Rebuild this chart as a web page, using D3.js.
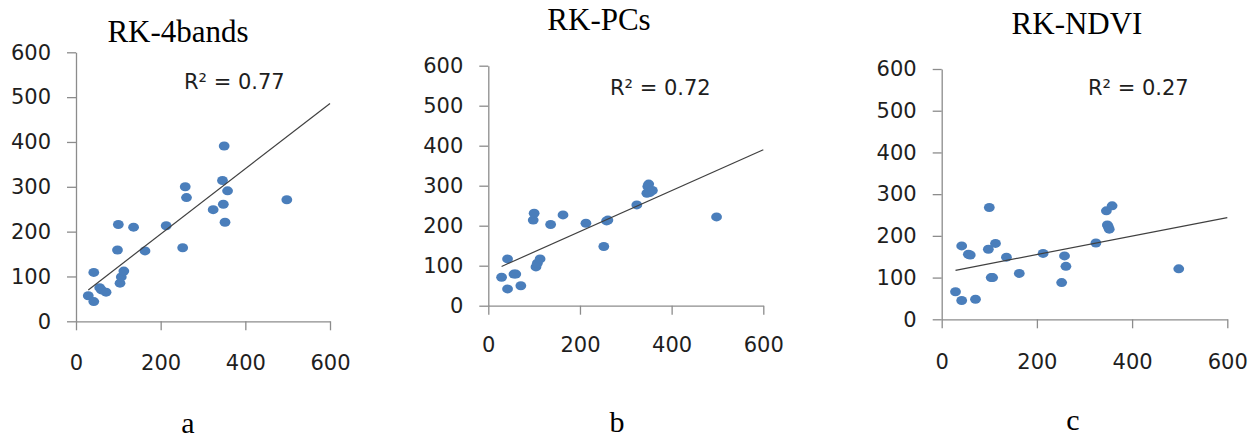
<!DOCTYPE html>
<html lang="en">
<head>
<meta charset="utf-8">
<title>RK scatter plots</title>
<script src="https://d3js.org/d3.v7.min.js"></script>
<style>
  body { margin: 0; background: #fff; }
  .axis path, .axis line { stroke: #8c8c8c; stroke-width: 1.3; }
  .axis text { font-family: "DejaVu Sans", sans-serif; font-size: 21px; fill: #1e1e1e; }
  .title { font-family: "Liberation Serif", "Times New Roman", serif; font-size: 31px; fill: #000; }
  .letter { font-family: "Liberation Serif", "Times New Roman", serif; font-size: 30px; fill: #000; }
  .r2 { font-family: "DejaVu Sans", sans-serif; font-size: 21px; fill: #1e1e1e; }
</style>
</head>
<body>
<div id="chart"></div>
<script>
// observed values (shared x for all three panels)
var observed = [29, 42, 42, 56, 60, 71, 98, 100, 104, 107, 113, 136, 163, 213, 252, 258, 261, 324, 346, 348, 350, 352, 358, 498];

// predicted values per method
var pred4bands = [57, 44, 109, 75, 70, 65, 159, 216, 85, 99, 112, 210, 157, 213, 164, 300, 276, 249, 314, 261, 391, 221, 291, 271];
var predPCs    = [71, 42, 117, 79, 79, 50, 214, 231, 97, 106, 117, 203, 227, 206, 148, 212, 214, 252, 281, 298, 304, 283, 288, 222];
var predNDVI   = [66, 45, 176, 156, 154, 48, 168, 268, 100, 100, 182, 149, 110, 158, 88, 152, 127, 183, 260, 226, 222, 216, 272, 121];

// trendlines
var trendSlope     = [0.7285, 0.511, 0.2214];
var trendIntercept = [48.9, 83.3, 111.0];

var titles   = ["RK-4bands", "RK-PCs", "RK-NDVI"];
var r2Labels = ["R\u00b2 = 0.77", "R\u00b2 = 0.72", "R\u00b2 = 0.27"];
var letters  = ["a", "b", "c"];
var xTicks = [0, 200, 400, 600];
var yTicks = [0, 100, 200, 300, 400, 500, 600];

var series = [pred4bands, predPCs, predNDVI];

// panel geometry (pixels)
var layout = [
  {x0: 76,    x1: 330,    y0: 321.3, y1: 52.3, xPad: 25, titleX: 178,   titleY: 42, r2X: 184,  r2Y: 89, letterX: 188,  letterY: 433},
  {x0: 488.3, x1: 763.3,  y0: 305.7, y1: 65.7, xPad: 22, titleX: 599,   titleY: 30, r2X: 610,  r2Y: 95, letterX: 617,  letterY: 432},
  {x0: 941.7, x1: 1227.3, y0: 319.3, y1: 69,   xPad: 26, titleX: 1077,  titleY: 34, r2X: 1088, r2Y: 95, letterX: 1073, letterY: 430}
];

var svg = d3.select("#chart").append("svg")
    .attr("width", 1258)
    .attr("height", 439);

layout.forEach(function(p, i) {
  var x = d3.scaleLinear().domain([0, 600]).range([p.x0, p.x1]);
  var y = d3.scaleLinear().domain([0, 600]).range([p.y0, p.y1]);

  var g = svg.append("g");

  // x axis
  g.append("g")
      .attr("class", "axis")
      .attr("transform", "translate(0," + p.y0 + ")")
      .call(d3.axisBottom(x).tickValues(xTicks).tickSize(9).tickSizeOuter(0).tickPadding(p.xPad));

  // y axis
  g.append("g")
      .attr("class", "axis")
      .attr("transform", "translate(" + p.x0 + ",0)")
      .call(d3.axisLeft(y).tickValues(yTicks).tickSize(9).tickSizeOuter(0).tickPadding(16));

  // points
  g.selectAll("ellipse")
      .data(series[i])
    .enter().append("ellipse")
      .attr("cx", function(d, j) { return x(observed[j]); })
      .attr("cy", function(d) { return y(d); })
      .attr("rx", 5.4)
      .attr("ry", 4.5)
      .attr("fill", "#4a7ebb");

  // trendline
  var xs = [d3.min(observed), 600];
  var line = d3.line()
      .x(function(d) { return x(d); })
      .y(function(d) { return y(trendSlope[i] * d + trendIntercept[i]); });
  g.append("path")
      .attr("d", line(xs))
      .attr("fill", "none")
      .attr("stroke", "#404040")
      .attr("stroke-width", 1.2);

  g.append("text")
      .attr("class", "r2")
      .attr("x", p.r2X)
      .attr("y", p.r2Y)
      .text(r2Labels[i]);

  g.append("text")
      .attr("class", "title")
      .attr("x", p.titleX)
      .attr("y", p.titleY)
      .style("text-anchor", "middle")
      .text(titles[i]);

  g.append("text")
      .attr("class", "letter")
      .attr("x", p.letterX)
      .attr("y", p.letterY)
      .style("text-anchor", "middle")
      .text(letters[i]);
});
</script>
</body>
</html>
